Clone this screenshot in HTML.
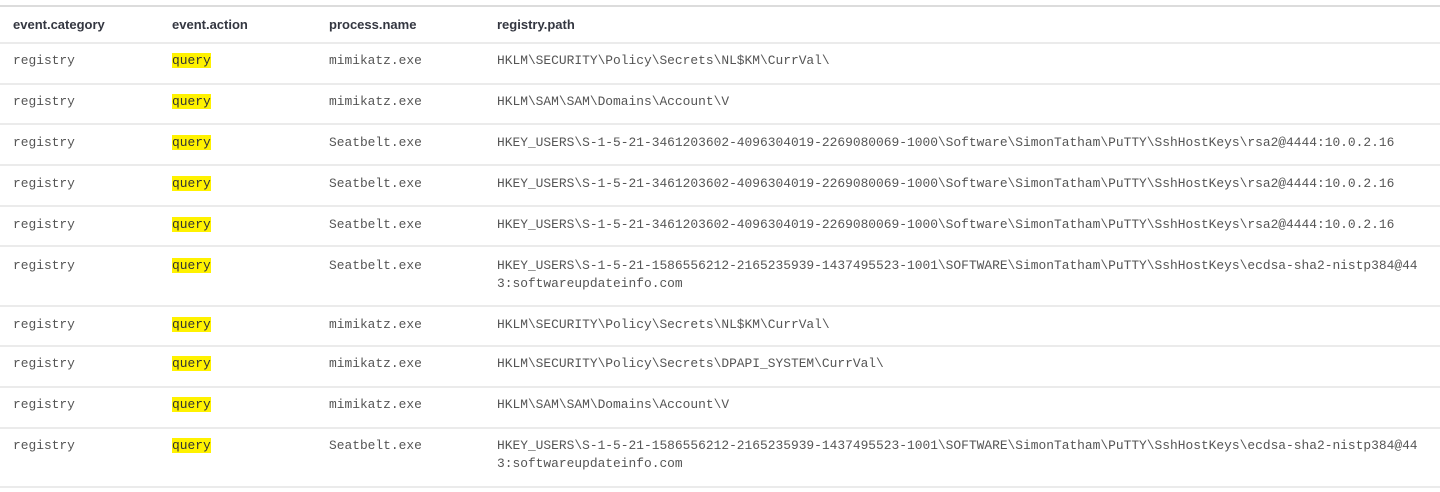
<!DOCTYPE html>
<html><head><meta charset="utf-8"><style>
body{margin:0;width:1440px;height:492px;background:#fff;position:relative;overflow:hidden}
.l{position:absolute;left:0;width:1440px;height:2px;background:#ebebeb}
.h{position:absolute;font:bold 13px "Liberation Sans",sans-serif;color:#343741;line-height:16px}
.t{position:absolute;font:12.9px "Liberation Mono",monospace;color:#555;line-height:18px;white-space:pre}
.q{background:#fff200;color:#333}
</style></head><body>
<div class="l" style="top:5px;background:#dcdcdc"></div>
<div class="l" style="top:42px"></div>
<div class="l" style="top:83px"></div>
<div class="l" style="top:123px"></div>
<div class="l" style="top:164px"></div>
<div class="l" style="top:205px"></div>
<div class="l" style="top:245px"></div>
<div class="l" style="top:305px"></div>
<div class="l" style="top:345px"></div>
<div class="l" style="top:386px"></div>
<div class="l" style="top:427px"></div>
<div class="l" style="top:486px"></div>
<div class="h" style="left:13px;top:17px">event.category</div>
<div class="h" style="left:172px;top:17px">event.action</div>
<div class="h" style="left:329px;top:17px">process.name</div>
<div class="h" style="left:497px;top:17px">registry.path</div>

<div class="t" style="left:13px;top:52px">registry</div><div class="t" style="left:172px;top:52px"><span class="q">query</span></div><div class="t" style="left:329px;top:52px">mimikatz.exe</div><div class="t" style="left:497px;top:52px">HKLM\SECURITY\Policy\Secrets\NL$KM\CurrVal\</div>
<div class="t" style="left:13px;top:93px">registry</div><div class="t" style="left:172px;top:93px"><span class="q">query</span></div><div class="t" style="left:329px;top:93px">mimikatz.exe</div><div class="t" style="left:497px;top:93px">HKLM\SAM\SAM\Domains\Account\V</div>
<div class="t" style="left:13px;top:134px">registry</div><div class="t" style="left:172px;top:134px"><span class="q">query</span></div><div class="t" style="left:329px;top:134px">Seatbelt.exe</div><div class="t" style="left:497px;top:134px">HKEY_USERS\S-1-5-21-3461203602-4096304019-2269080069-1000\Software\SimonTatham\PuTTY\SshHostKeys\rsa2@4444:10.0.2.16</div>
<div class="t" style="left:13px;top:175px">registry</div><div class="t" style="left:172px;top:175px"><span class="q">query</span></div><div class="t" style="left:329px;top:175px">Seatbelt.exe</div><div class="t" style="left:497px;top:175px">HKEY_USERS\S-1-5-21-3461203602-4096304019-2269080069-1000\Software\SimonTatham\PuTTY\SshHostKeys\rsa2@4444:10.0.2.16</div>
<div class="t" style="left:13px;top:216px">registry</div><div class="t" style="left:172px;top:216px"><span class="q">query</span></div><div class="t" style="left:329px;top:216px">Seatbelt.exe</div><div class="t" style="left:497px;top:216px">HKEY_USERS\S-1-5-21-3461203602-4096304019-2269080069-1000\Software\SimonTatham\PuTTY\SshHostKeys\rsa2@4444:10.0.2.16</div>
<div class="t" style="left:13px;top:257px">registry</div><div class="t" style="left:172px;top:257px"><span class="q">query</span></div><div class="t" style="left:329px;top:257px">Seatbelt.exe</div><div class="t" style="left:497px;top:257px">HKEY_USERS\S-1-5-21-1586556212-2165235939-1437495523-1001\SOFTWARE\SimonTatham\PuTTY\SshHostKeys\ecdsa-sha2-nistp384@44
3:softwareupdateinfo.com</div>
<div class="t" style="left:13px;top:316px">registry</div><div class="t" style="left:172px;top:316px"><span class="q">query</span></div><div class="t" style="left:329px;top:316px">mimikatz.exe</div><div class="t" style="left:497px;top:316px">HKLM\SECURITY\Policy\Secrets\NL$KM\CurrVal\</div>
<div class="t" style="left:13px;top:355px">registry</div><div class="t" style="left:172px;top:355px"><span class="q">query</span></div><div class="t" style="left:329px;top:355px">mimikatz.exe</div><div class="t" style="left:497px;top:355px">HKLM\SECURITY\Policy\Secrets\DPAPI_SYSTEM\CurrVal\</div>
<div class="t" style="left:13px;top:396px">registry</div><div class="t" style="left:172px;top:396px"><span class="q">query</span></div><div class="t" style="left:329px;top:396px">mimikatz.exe</div><div class="t" style="left:497px;top:396px">HKLM\SAM\SAM\Domains\Account\V</div>
<div class="t" style="left:13px;top:437px">registry</div><div class="t" style="left:172px;top:437px"><span class="q">query</span></div><div class="t" style="left:329px;top:437px">Seatbelt.exe</div><div class="t" style="left:497px;top:437px">HKEY_USERS\S-1-5-21-1586556212-2165235939-1437495523-1001\SOFTWARE\SimonTatham\PuTTY\SshHostKeys\ecdsa-sha2-nistp384@44
3:softwareupdateinfo.com</div>
</body></html>
